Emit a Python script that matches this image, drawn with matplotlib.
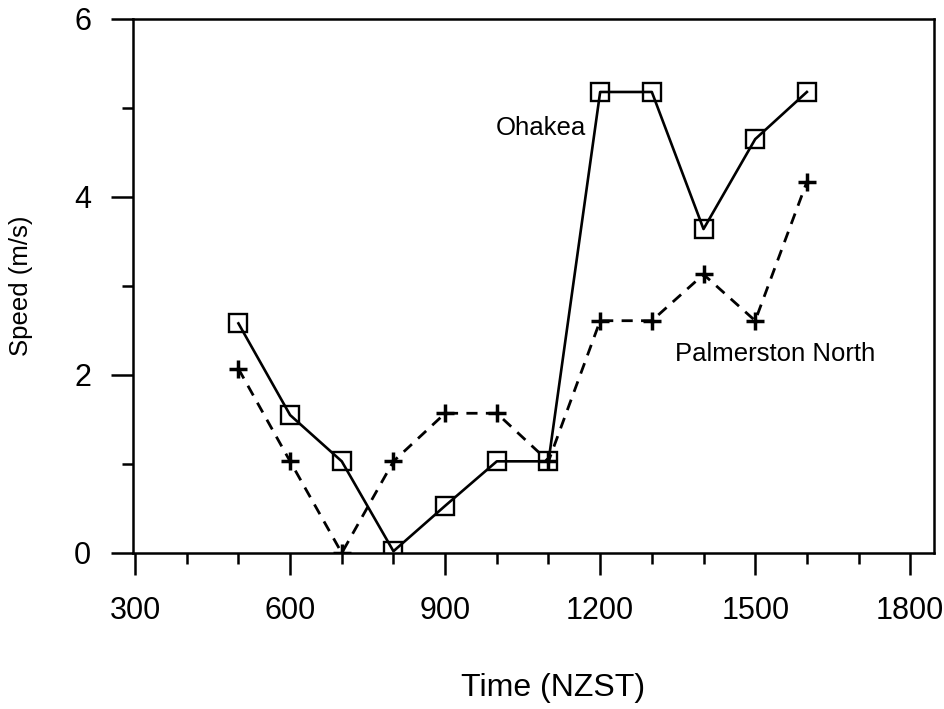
import numpy as np
import matplotlib
matplotlib.use("Agg")
import matplotlib.pyplot as plt
from matplotlib.ticker import MultipleLocator

# --- data ---
times = [500, 600, 700, 800, 900, 1000, 1100, 1200, 1300, 1400, 1500, 1600]
ohakea = [2.58, 1.55, 1.03, 0.02, 0.53, 1.03, 1.03, 5.18, 5.18, 3.64, 4.65, 5.18]
palmerston = [2.07, 1.03, 0.0, 1.03, 1.57, 1.57, 1.03, 2.61, 2.61, 3.13, 2.61, 4.17]

xticks = [300, 600, 900, 1200, 1500, 1800]
yticks = [0, 2, 4, 6]

plt.rcParams['font.family'] = ['Liberation Sans', 'DejaVu Sans']

fig = plt.figure(figsize=(9.44, 7.09), dpi=100)
ax = fig.add_axes([133 / 944, 1 - 553 / 709, (934 - 133) / 944, (553 - 19) / 709])

ax.plot(times, ohakea, color='black', lw=1.9, marker='s', ms=13,
        mfc='none', mec='black', mew=1.7)
ax.plot(times, palmerston, color='black', lw=2.0, ls=(0, (4, 3)),
        marker='+', ms=13, mew=2.5)

ax.text(998, 4.78, 'Ohakea', fontsize=18.5, va='center', ha='left')
ax.text(1345, 2.24, 'Palmerston North', fontsize=18.5, va='center', ha='left')

ax.set_xlim(296, 1846)
ax.set_ylim(0, 6)
ax.set_xticks(xticks)
ax.set_yticks(yticks)
ax.xaxis.set_minor_locator(MultipleLocator(100))
ax.yaxis.set_minor_locator(MultipleLocator(1))

ax.tick_params(which='major', direction='out', length=16, width=1.8,
               labelsize=22)
ax.tick_params(which='minor', direction='out', length=8, width=1.8)
ax.tick_params(axis='x', which='major', pad=15)
ax.tick_params(axis='y', which='major', pad=14)

for s in ax.spines.values():
    s.set_linewidth(1.8)

ax.set_xlabel('Time (NZST)', fontsize=23, va='center')
ax.xaxis.set_label_coords(0.524, -0.253)
ax.set_ylabel('Speed (m/s)', fontsize=18.5, labelpad=30)

fig.savefig('out.png', dpi=100)
